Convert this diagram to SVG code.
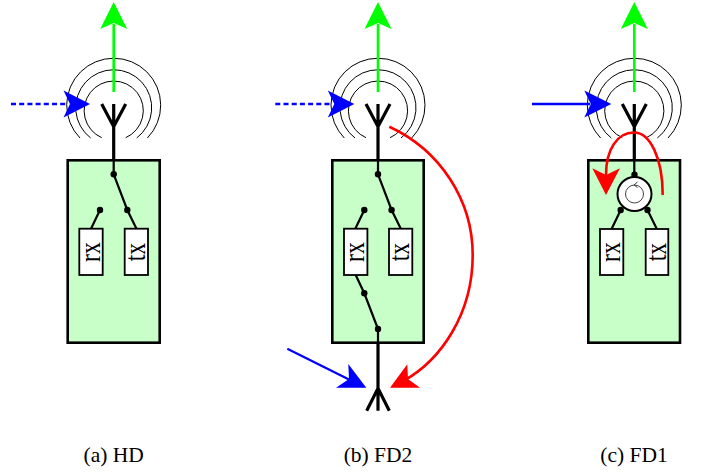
<svg xmlns="http://www.w3.org/2000/svg" width="702" height="473" viewBox="0 0 702 473">
<style>
text{font-family:"Liberation Serif",serif;fill:#000}
.cap{font-size:21.5px;text-anchor:middle}
.lbl{font-size:29px;text-anchor:middle}
.body{fill:#c8ffc8;stroke:#000;stroke-width:2.6}
.box{fill:#fff;stroke:#000;stroke-width:1.8}
.wave{fill:none;stroke:#000;stroke-width:1}
.th{fill:none;stroke:#000;stroke-width:3.2}
.tn{fill:none;stroke:#000;stroke-width:2.2}
.grn{fill:none;stroke:#00ff00;stroke-width:2.6}
.g{fill:#00ff00}
.b{fill:#0000ff}
.r{fill:#ff0000}
.bl{fill:none;stroke:#0000ff;stroke-width:2.3}
.dash{stroke-dasharray:5 3.2}
.rd{fill:none;stroke:#ff0000;stroke-width:2.6}
</style>
<defs>
<g id="waves">
<path class="wave" d="M-12 137.7A29.6 29.6 0 1 1 12 137.7"/>
<path class="wave" d="M-23 138A38 38 0 1 1 23 138"/>
<path class="wave" d="M-33.7 138A47 47 0 1 1 33.7 138"/>
</g>
<g id="ant">
<path class="th" d="M-12 104L0 126.7L12 104M0 104V160"/>
</g>
<g id="up">
<path class="grn" d="M0 92V24"/>
<path class="g" d="M0 2L13.5 29L0 23L-13.5 29Z"/>
</g>
</defs>
<g id="panel-a">
<rect class="body" x="67.7" y="160.3" width="92" height="182.4"/>
<rect class="box" x="79.3" y="228.7" width="23.4" height="46.3"/>
<rect class="box" x="124.7" y="228.7" width="23.3" height="46.3"/>
<text class="lbl" transform="translate(99.500,252) rotate(-90) scale(.82,1)">rx</text>
<text class="lbl" transform="translate(144.800,252) rotate(-90) scale(.82,1)">tx</text>
<circle cx="113.7" cy="174.3" r="3.2"/><circle cx="100" cy="210" r="3.2"/><circle cx="127.3" cy="210" r="3.2"/>
</g>
<g id="panel-b">
<rect class="body" x="332.3" y="160.3" width="91.4" height="182.4"/>
<rect class="box" x="344" y="228.7" width="23.4" height="46.3"/>
<rect class="box" x="389" y="228.7" width="23.3" height="46.3"/>
<text class="lbl" transform="translate(364.200,252) rotate(-90) scale(.82,1)">rx</text>
<text class="lbl" transform="translate(409.200,252) rotate(-90) scale(.82,1)">tx</text>
<circle cx="378" cy="174.3" r="3.2"/><circle cx="364.3" cy="210" r="3.2"/><circle cx="391.6" cy="210" r="3.2"/>
<circle cx="364.3" cy="293.3" r="3.2"/><circle cx="378" cy="329" r="3.2"/>
</g>
<g id="panel-c">
<rect class="body" x="588.3" y="160.3" width="91.7" height="182.4"/>
<rect class="box" x="600" y="229" width="23.3" height="46"/>
<rect class="box" x="645.7" y="229" width="22.6" height="46"/>
<text class="lbl" transform="translate(620,252) rotate(-90) scale(.82,1)">rx</text>
<text class="lbl" transform="translate(665.500,252) rotate(-90) scale(.82,1)">tx</text>
<circle cx="634.500" cy="194" r="17" fill="#fff" stroke="#000" stroke-width="2"/>
<circle cx="634.500" cy="194" r="9" fill="none" stroke="#444" stroke-width="1"/>
<path d="M634 185L637.500 187.500M634 185L637.500 182" fill="none" stroke="#444" stroke-width="1"/>
<circle cx="634.500" cy="174.700" r="3.200"/><circle cx="620.700" cy="210" r="3.200"/><circle cx="647.500" cy="210" r="3.200"/>
</g>
<g id="connectors">
<use href="#waves" x="113.7" y="0"/><use href="#waves" x="378" y="0"/><use href="#waves" x="634.3" y="0"/>
<use href="#ant" x="113.7"/><use href="#ant" x="378"/><use href="#ant" x="634.3"/>
<use href="#up" x="113.7"/><use href="#up" x="378"/><use href="#up" x="634.3"/>
<path class="tn" d="M113.7 160V174.3L127.3 210L136.5 228.7M100 210L91 228.7"/>
<path class="tn" d="M378 160V174.3L391.6 210L400.8 228.7M364.3 210L355.3 228.7M355.7 275L364.3 293.3L378 329V342"/>
<path class="tn" d="M634.3 160V175M620.7 210L611.700 228.700M647.500 210L656.700 228.700"/>
<path class="th" d="M378 342V410.7M366.7 410.7L378 388.3L389.3 410.7"/>
<path class="bl dash" d="M11 104H66"/><path class="b" d="M90 104L63.5 117.5L70 104L63.5 90.500Z"/>
<path class="bl dash" d="M275.300 104H330"/><path class="b" d="M354.300 104L327.800 117.500L334.300 104L327.800 90.500Z"/>
<path class="bl" d="M532 104H590"/><path class="b" d="M611.300 104L584.300 117.500L590.800 104L584.300 90.500Z"/>
<path class="bl" d="M287.300 348.700L350 380"/><path class="b" d="M366.300 387.700L336 387.700L349 379L348.300 364Z"/>
<path class="rd" d="M389.300 126.700C440 150 472.700 200 472.700 255C472.700 315 440 360 405 380"/><path class="r" d="M390 387.700L407.300 364.300L408 379L420 387.700Z"/>
<path class="rd" d="M662.700 195C662.700 158 650 132.500 634 132.500C617 132.500 606 150 606 175"/><path class="r" d="M606 195L592.300 168.300L606 175L620 168.300Z"/>
</g>
<text class="cap" x="113.700" y="461.500">(a) HD</text>
<text class="cap" x="378" y="461.500">(b) FD2</text>
<text class="cap" x="634" y="461.500">(c) FD1</text>
</svg>
